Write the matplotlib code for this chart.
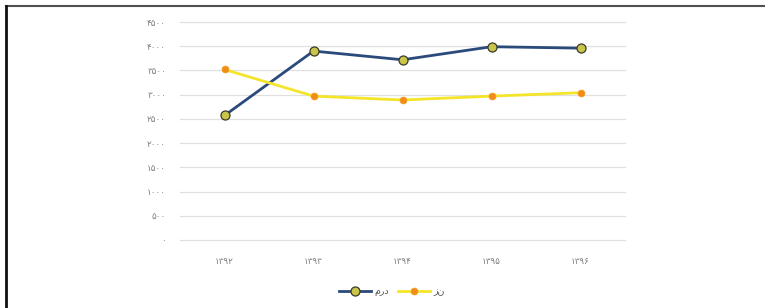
import matplotlib
matplotlib.use("Agg")
import matplotlib.pyplot as plt
from matplotlib.lines import Line2D

# Data
years = ["۱۳۹۲", "۱۳۹۳", "۱۳۹۴", "۱۳۹۵", "۱۳۹۶"]
men = [2570, 3900, 3720, 3990, 3960]      # مرد
women = [3520, 2970, 2890, 2970, 3040]    # زن
yticks = [0, 500, 1000, 1500, 2000, 2500, 3000, 3500, 4000, 4500]
ytick_labels = ["۰", "۵۰۰", "۱۰۰۰", "۱۵۰۰", "۲۰۰۰", "۲۵۰۰", "۳۰۰۰", "۳۵۰۰", "۴۰۰۰", "۴۵۰۰"]
label_men = "مرد"
label_women = "زن"

plt.rcParams['font.family'] = ['DejaVu Sans']

fig = plt.figure(figsize=(7.65, 3.08), dpi=100)
ax = fig.add_axes([180/765, 1-240/308, 445/765, 218/308])

x = list(range(len(years)))
ax.plot(x, men, color='#2B4A7C', lw=2.0, marker='o', ms=6.5,
        mfc='#C9C44A', mec='#3A3A2A', mew=0.9, label=label_men, zorder=3)
ax.plot(x, women, color='#F5E52A', lw=2.0, marker='o', ms=5,
        mfc='#F08C1A', mec='#F5A020', mew=0.5, label=label_women, zorder=3)

ax.set_xlim(-0.5, len(years) - 0.5)
ax.set_ylim(0, 4500)
ax.set_yticks(yticks)
ax.set_yticklabels(ytick_labels)
ax.set_xticks(x)
ax.set_xticklabels(years)
ax.tick_params(axis='both', length=0, labelsize=6.3, labelcolor='#7f7f7f')
ax.tick_params(axis='y', pad=10)
ax.tick_params(axis='x', pad=12)
ax.grid(axis='y', color='#e0e0e0', lw=0.9)
for gl in ax.get_ygridlines():
    gl.set_clip_on(False)
ax.set_axisbelow(True)
for s in ax.spines.values():
    s.set_visible(False)

leg = fig.legend(loc='center', bbox_to_anchor=(392/765, 1-292/308), ncol=2,
                 frameon=False, fontsize=6.8, handlelength=3.3, columnspacing=1.0,
                 handletextpad=0.4)
for t in leg.get_texts():
    t.set_color('#555555')

# frame lines
fig.add_artist(Line2D([6/765, 1], [1-5.5/308]*2, transform=fig.transFigure, color='#505050', lw=1.5))
fig.add_artist(Line2D([6.5/765]*2, [0, 1-5.5/308], transform=fig.transFigure, color='#111111', lw=2))

fig.savefig("out.png", dpi=100)
